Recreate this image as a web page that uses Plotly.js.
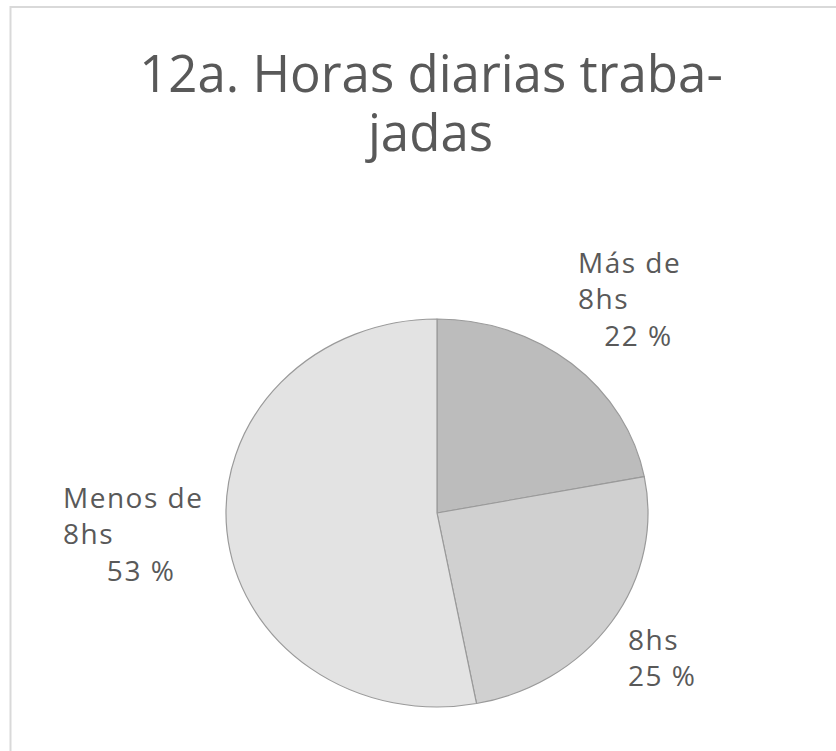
<!DOCTYPE html>
<html><head><meta charset="utf-8">
<script src="https://cdn.plot.ly/plotly-3.0.1.min.js"></script>
<style>
html,body{margin:0;padding:0;background:#fff;} #chart{width:836px;height:751px;}
g.annotation[data-index="0"] text, g.annotation[data-index="1"] text, g.annotation[data-index="2"] text {letter-spacing:1.5px;}
</style>
</head><body><div id="chart"></div>
<script>
const categories = ["Más de 8hs", "8hs", "Menos de 8hs"];
const percentages = [22, 25, 53];
const sliceColors = ["#bcbcbc", "#d0d0d0", "#e3e3e3"];
const titleLines = ["12a. Horas diarias traba-", "jadas"];

const W = 836, H = 751;
const px = x => x / W;
const py = y => 1 - y / H;

// pie geometry (pixels)
const cx = 437, cy = 513, rx = 211, ry = 194;

const NB = "\u00a0";
function wrapLabel(cat) {
  const i = cat.indexOf(" de ");
  return i >= 0 ? cat.slice(0, i + 3) + "<br>" + cat.slice(i + 4) : cat;
}
function pctText(v) { return v + NB + "%"; }

// label placements: [left px, top px, indent nbsp count]
const labelPlace = [[576, 241, 3], [626, 618, 0], [61, 476, 5]];

const textColor = "#595959";
const annotations = categories.map((c, i) => ({
  xref: "paper", yref: "paper",
  x: px(labelPlace[i][0]), y: py(labelPlace[i][1]),
  xanchor: "left", yanchor: "top", align: "left", showarrow: false,
  text: wrapLabel(c) + "<br>" + NB.repeat(labelPlace[i][2]) + pctText(percentages[i]),
  font: {family: "Open Sans, sans-serif", size: 28, color: textColor}
}));
annotations.push({
  xref: "paper", yref: "paper", x: px(429), y: py(94),
  xanchor: "center", yanchor: "top", showarrow: false,
  text: titleLines[1],
  font: {family: "Open Sans, sans-serif", size: 51, color: textColor}
});

const data = [{
  type: "pie",
  labels: categories,
  values: percentages,
  sort: false,
  direction: "clockwise",
  rotation: 0,
  textinfo: "none",
  hoverinfo: "label+percent",
  marker: {colors: sliceColors, line: {color: "#9a9a9a", width: 1.2}},
  domain: {x: [px(cx - rx), px(cx + rx)], y: [py(cy + rx), py(cy - rx)]},
  showlegend: false
}];

const layout = {
  width: W, height: H,
  margin: {l: 0, r: 0, t: 0, b: 0},
  paper_bgcolor: "#ffffff",
  showlegend: false,
  title: {
    text: titleLines[0],
    x: px(431), xref: "paper", xanchor: "center",
    y: py(56), yref: "container", yanchor: "top",
    font: {family: "Open Sans, sans-serif", size: 51, color: textColor}
  },
  annotations: annotations,
  shapes: [{
    type: "rect", xref: "paper", yref: "paper",
    x0: px(10.5), x1: 1.02, y0: -0.02, y1: py(7),
    line: {color: "#d9d9d9", width: 2}, fillcolor: "rgba(0,0,0,0)", layer: "below"
  }]
};

Plotly.newPlot("chart", data, layout, {displayModeBar: false, staticPlot: true}).then(gd => {
  const k = ry / rx;
  const layer = gd.querySelector(".pielayer");
  if (layer) layer.setAttribute("transform", "translate(0," + (cy * (1 - k)) + ") scale(1," + k + ")");
});
</script>
</body></html>
